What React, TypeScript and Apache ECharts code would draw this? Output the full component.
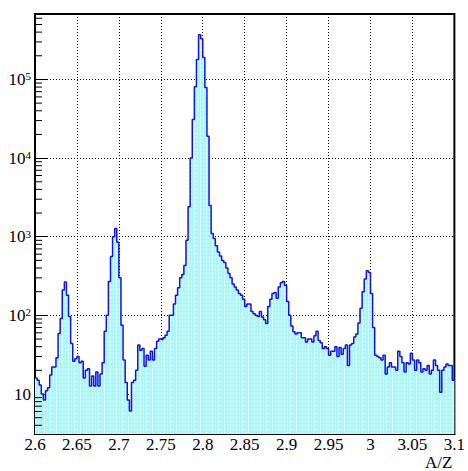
import React, { useEffect, useRef } from 'react';
import * as echarts from 'echarts';

// Histogram: A/Z from 2.6 to 3.1, 200 bins of 0.0025
const xMin = 2.6;
const xMax = 3.1;
const binWidth = 0.0025;

const counts: number[] = [
  16, 15, 13, 10, 8.4, 11, 12, 17.5, 22, 22,
  29, 59, 91, 210, 265, 180, 97, 44, 26, 28,
  30, 25, 26, 16, 20, 21, 12.6, 17, 12.6, 19,
  12.6, 18, 25, 63, 100, 270, 560, 1000, 1270, 850,
  300, 75, 27, 14, 8.4, 6.1, 14, 15, 20, 42,
  36, 38, 22.5, 31, 27, 35, 27, 38, 47, 50,
  49, 52, 56, 63, 100, 100, 140, 180, 225, 300,
  330, 430, 900, 2400, 10000, 31000, 81000, 180000, 370000, 330000,
  190000, 79000, 19000, 2500, 1100, 950, 770, 640, 570, 500,
  470, 400, 340, 300, 250, 230, 210, 190, 180, 160,
  130, 140, 140, 112, 105, 100, 97, 112, 95, 88,
  79, 130, 160, 190, 195, 165, 230, 260, 270, 240,
  150, 100, 73, 62, 58, 60, 60, 52, 52, 46,
  50, 50, 46, 55, 63, 48, 45, 38, 40, 38,
  31, 35, 35, 40, 30, 39, 32, 38, 42, 23,
  42, 44, 53, 58, 80, 123, 200, 290, 370, 350,
  190, 70, 31, 30, 29, 27, 31, 18, 22, 25,
  22, 22, 20, 35, 30, 25, 19, 25, 24, 33,
  27, 20, 27, 25, 19, 21, 20, 23, 18, 20,
  27, 23, 20, 10.5, 20, 22, 24, 23, 23, 15,
];

const yMin = 3.1;
const yMax = 680000;
const yMinorTicks: number[] = [
  4, 5, 6, 7, 8, 9,
  20, 30, 40, 50, 60, 70, 80, 90,
  200, 300, 400, 500, 600, 700, 800, 900,
  2000, 3000, 4000, 5000, 6000, 7000, 8000, 9000,
  20000, 30000, 40000, 50000, 60000, 70000, 80000, 90000,
  200000, 300000, 400000, 500000, 600000,
];

const FONT = '"Liberation Serif", "DejaVu Serif", serif';

export default function App() {
  const ref = useRef<HTMLDivElement>(null);
  useEffect(() => {
    if (!ref.current) return;
    const chart = echarts.init(ref.current, null, { renderer: 'svg' });

    const edges: number[][] = counts.map((c, i) => [xMin + i * binWidth, c]);
    edges.push([xMax, counts[counts.length - 1]]);

    const cvs = document.createElement('canvas');
    cvs.width = 3;
    cvs.height = 4;
    const ctx = cvs.getContext('2d')!;
    ctx.fillStyle = '#a4fafa';
    ctx.fillRect(0, 0, 3, 4);
    ctx.fillStyle = '#e8ffff';
    ctx.fillRect(2, 0, 1, 3);

    chart.setOption({
      animation: false,
      backgroundColor: '#ffffff',
      grid: {
        left: 35,
        right: 8,
        top: 14,
        bottom: 35,
        show: true,
        borderColor: '#000',
        borderWidth: 2,
        backgroundColor: 'transparent',
      },
      xAxis: {
        type: 'value',
        min: xMin,
        max: xMax,
        interval: 0.05,
        name: 'A/Z',
        nameLocation: 'end',
        nameGap: -2,
        nameTextStyle: {
          fontFamily: FONT,
          fontSize: 17,
          color: '#000',
          align: 'right',
          verticalAlign: 'top',
          padding: [20, 0, 0, 0],
        },
        axisLine: { show: true, lineStyle: { color: '#000', width: 2 } },
        axisTick: { show: true, inside: true, length: 11, lineStyle: { color: '#000', width: 1 } },
        minorTick: { show: true, splitNumber: 5, length: 5, lineStyle: { color: '#000', width: 1 } },
        splitLine: { show: true, lineStyle: { color: '#000', width: 1, type: [1, 2] } },
        axisLabel: {
          fontFamily: FONT,
          fontSize: 17,
          color: '#000',
          margin: 2,
          formatter: (v: number) => String(Math.round(v * 100) / 100),
        },
      },
      yAxis: {
        type: 'log',
        logBase: 10,
        min: yMin,
        max: yMax,
        splitNumber: 5,
        axisLine: { show: true, lineStyle: { color: '#000', width: 2 } },
        axisTick: { show: true, inside: true, length: 13, lineStyle: { color: '#000', width: 1 } },
        splitLine: { show: true, lineStyle: { color: '#000', width: 1, type: [1, 2] } },
        axisLabel: {
          showMinLabel: false,
          showMaxLabel: false,
          margin: 4,
          fontFamily: FONT,
          color: '#000',
          formatter: (v: number) => {
            const e = Math.round(Math.log10(v));
            if (e === 1) return '{b|10}';
            return '{b|10}{s|' + e + '}';
          },
          rich: {
            b: { fontFamily: FONT, fontSize: 17, color: '#000', verticalAlign: 'bottom' },
            s: { fontFamily: FONT, fontSize: 11, color: '#000', verticalAlign: 'top' },
          },
        },
      },
      series: [
        {
          type: 'line',
          data: edges,
          step: 'end',
          showSymbol: false,
          symbol: 'none',
          clip: true,
          lineStyle: { color: '#1010f0', width: 1.5 },
          areaStyle: {
            origin: 'start',
            color: { image: cvs, repeat: 'repeat' } as any,
            opacity: 1,
          },
          z: 3,
        },
        {
          type: 'custom',
          data: yMinorTicks.map((v) => [xMin, v]),
          silent: true,
          clip: false,
          z: 5,
          renderItem: (params: any, api: any) => {
            const p = api.coord([api.value(0), api.value(1)]);
            return {
              type: 'line',
              shape: { x1: p[0], y1: p[1], x2: p[0] + 7, y2: p[1] },
              style: { stroke: '#000', lineWidth: 1 },
            };
          },
        },
      ],
    });
    return () => chart.dispose();
  }, []);
  return (
    <div
      ref={ref}
      style={{ position: 'fixed', left: 0, top: 0, width: 468, height: 471 }}
    />
  );
}
